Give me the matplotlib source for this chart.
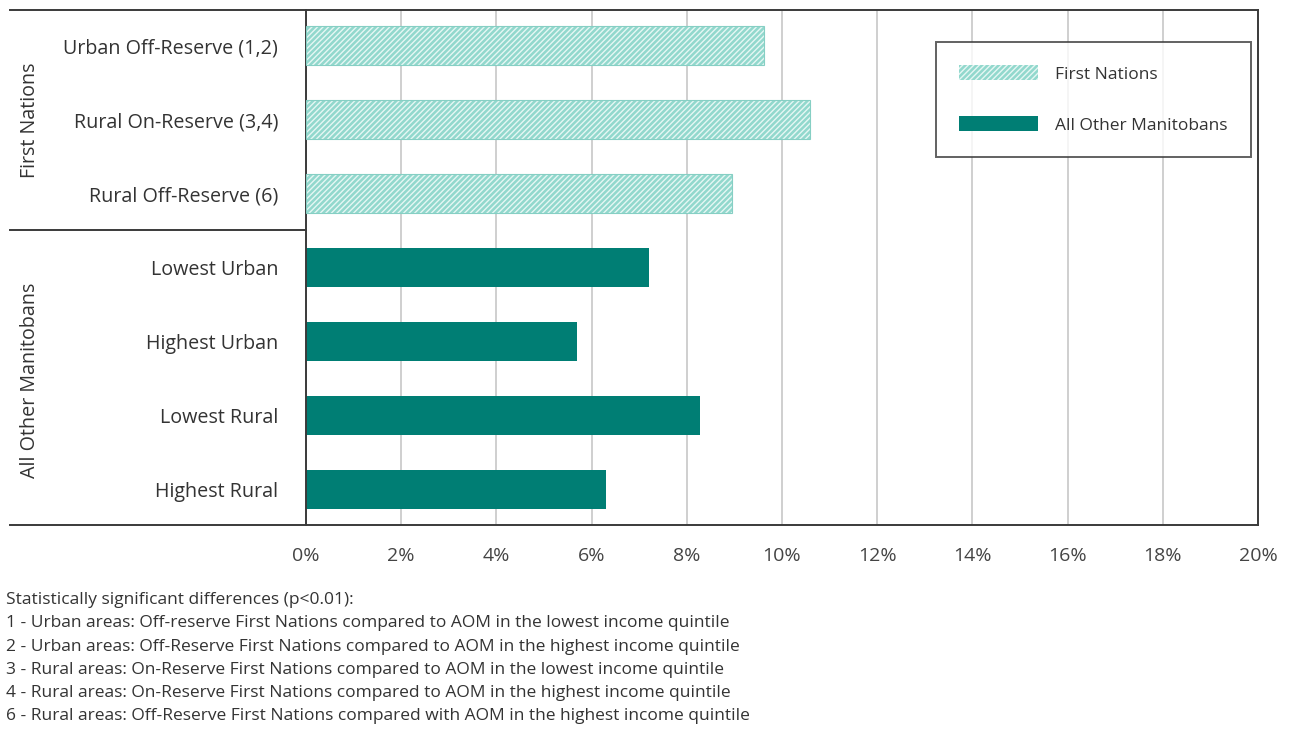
import matplotlib.pyplot as plt
from matplotlib.patches import Patch
from matplotlib.lines import Line2D

plt.rcParams['font.family'] = ['Open Sans', 'DejaVu Sans']
plt.rcParams['hatch.linewidth'] = 1.0

categories = ['Urban Off-Reserve (1,2)', 'Rural On-Reserve (3,4)', 'Rural Off-Reserve (6)',
              'Lowest Urban', 'Highest Urban', 'Lowest Rural', 'Highest Rural']
values = [9.63, 10.58, 8.94, 7.2, 5.69, 8.27, 6.3]
groups = ['First Nations'] * 3 + ['All Other Manitobans'] * 4
ticks = [0, 2, 4, 6, 8, 10, 12, 14, 16, 18, 20]
footnotes = [
    'Statistically significant differences (p<0.01):',
    '1 - Urban areas: Off-reserve First Nations compared to AOM in the lowest income quintile',
    '2 - Urban areas: Off-Reserve First Nations compared to AOM in the highest income quintile',
    '3 - Rural areas: On-Reserve First Nations compared to AOM in the lowest income quintile',
    '4 - Rural areas: On-Reserve First Nations compared to AOM in the highest income quintile',
    '6 - Rural areas: Off-Reserve First Nations compared with AOM in the highest income quintile',
]

light = '#92d8cd'
dark = '#007e74'
frame = '#3a3a3a'

fig = plt.figure(figsize=(12.92, 7.34), dpi=100)
ax = fig.add_axes([306 / 1292, 1 - 525 / 734, (1258 - 306) / 1292, (525 - 10) / 734])

ypos = list(range(len(categories)))
for y, v, g in zip(ypos, values, groups):
    if g == 'First Nations':
        ax.barh(y, v, height=0.54, color=light, edgecolor='#e6f7f4', hatch='//////', linewidth=0, zorder=2)
        ax.barh(y, v, height=0.54, fill=False, edgecolor='#86cfc4', linewidth=0.8, zorder=3)
    else:
        ax.barh(y, v, height=0.54, color=dark, linewidth=0, zorder=2)

ax.set_xlim(0, 20)
ax.set_ylim(len(categories) - 0.52, -0.48)
ax.set_xticks(ticks)
ax.set_xticklabels([f'{t}%' for t in ticks], fontsize=14, color='#444444')
ax.set_yticks(ypos)
ax.set_yticklabels(categories, fontsize=14.2, color='#333333')
ax.tick_params(axis='both', length=0)
ax.tick_params(axis='x', pad=16)
ax.tick_params(axis='y', pad=20)
ax.grid(axis='x', color='#cccccc', linewidth=1.3, zorder=0)
for s in ax.spines.values():
    s.set_color(frame)
    s.set_linewidth(1.4)

# left group frame lines
fig.add_artist(Line2D([10 / 1292, 306 / 1292], [1 - 10 / 734] * 2, color=frame, lw=1.4))
fig.add_artist(Line2D([10 / 1292, 306 / 1292], [1 - 230 / 734] * 2, color=frame, lw=1.4))
fig.add_artist(Line2D([10 / 1292, 306 / 1292], [1 - 525 / 734] * 2, color=frame, lw=1.4))
fig.text(30 / 1292, 1 - 120 / 734, 'First Nations', rotation=90, ha='center', va='center',
         fontsize=14.2, color='#333333')
fig.text(30 / 1292, 1 - 380 / 734, 'All Other Manitobans', rotation=90, ha='center', va='center',
         fontsize=14.2, color='#333333')

handles = [Patch(facecolor=light, edgecolor='#e6f7f4', hatch='//////', linewidth=0),
           Patch(facecolor=dark, linewidth=0)]
leg = ax.legend(handles, ['First Nations', 'All Other Manitobans'], loc='upper left',
                bbox_to_anchor=((936 - 306) / 952, 1 - 32 / 515), fontsize=12.5, frameon=True,
                fancybox=False, edgecolor=frame, handlelength=4.5, handleheight=0.9,
                handletextpad=1.0, labelspacing=1.95, borderpad=1.35, borderaxespad=0)
leg.get_frame().set_linewidth(1.4)
for t in leg.get_texts():
    t.set_color('#333333')

for i, line in enumerate(footnotes):
    fig.text(6 / 1292, 1 - (600 + i * 23.3) / 734, line, fontsize=12.5, color='#333333', va='center')

fig.savefig('out.png', dpi=100)
